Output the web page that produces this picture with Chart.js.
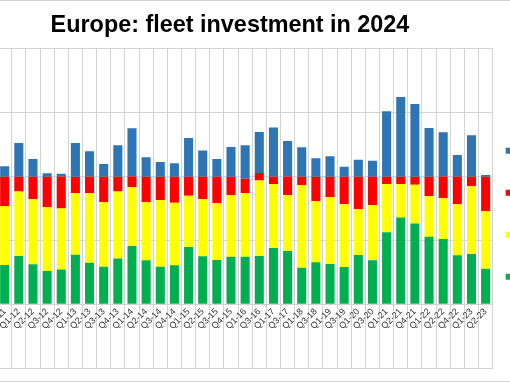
<!DOCTYPE html>
<html>
<head>
<meta charset="utf-8">
<script src="https://cdn.jsdelivr.net/npm/chart.js@4/dist/chart.umd.min.js"></script>
<style>
  html, body { margin: 0; padding: 0; background: #fff; overflow: hidden; width: 510px; height: 382px; }
  #frame { position: absolute; left: 0; top: 0; width: 510px; height: 380px; border-top: 1px solid #d4d4d4; border-bottom: 1px solid #d4d4d4; }
  #wrap { position: absolute; left: -72px; top: 0; width: 604px; height: 382px; }
</style>
</head>
<body>
<div id="frame"></div>
<div id="wrap"><canvas id="c"></canvas></div>
<script>
const TITLE = "Europe: fleet investment in 2024";
const categories = ["Q4-11","Q1-12","Q2-12","Q3-12","Q4-12","Q1-13","Q2-13","Q3-13","Q4-13","Q1-14","Q2-14","Q3-14","Q4-14","Q1-15","Q2-15","Q3-15","Q4-15","Q1-16","Q3-16","Q1-17","Q3-17","Q1-18","Q3-18","Q1-19","Q3-19","Q1-20","Q3-20","Q1-21","Q2-21","Q4-21","Q1-22","Q2-22","Q4-22","Q1-23","Q2-23"];
const seriesNames = ["Series 1","Series 2","Series 3","Series 4"];
const green  = [30.8,37.9,31.3,26.1,27.2,38.9,32.6,29.5,35.8,45.7,34.5,29.5,30.5,44.9,37.6,34.7,37.3,37.3,37.9,44.1,41.8,28.7,32.9,31.6,29.2,38.6,34.5,56.4,67.9,63.2,53.0,51.2,38.4,39.4,27.9];
const yellow = [46.2,50.4,50.9,50.1,47.8,48.0,54.3,50.7,52.5,46.0,45.7,52.2,49.1,40.2,44.9,44.4,48.3,49.6,59.0,50.1,43.9,64.8,47.8,52.2,49.1,35.8,43.3,37.9,26.4,30.5,31.9,31.9,39.9,53.0,44.9];
const red    = [23.0,11.7,17.8,23.8,25.1,13.1,13.1,19.8,11.7,8.4,19.8,18.3,20.4,14.9,17.5,20.9,14.4,11.5,6.0,5.7,14.4,6.5,19.3,16.2,21.7,25.6,22.2,5.7,5.7,6.3,15.1,17.0,21.7,7.6,27.2];
const blue   = [8.1,26.4,13.8,2.6,2.1,26.4,19.8,9.9,24.5,37.9,15.1,11.5,10.4,30.3,20.4,13.8,23.2,26.1,32.1,38.6,27.9,23.0,14.4,15.9,7.8,13.3,12.5,51.2,62.4,56.9,38.1,34.7,17.0,32.4,1.3];
const yTicks = [0, 50, 100, 150, 200];

const FONT = "'Liberation Sans', Arial, Helvetica, sans-serif";
const GRID = '#d3d3d3';

const boxLine = {
  id: 'boxLine',
  afterDraw(chart) {
    const {ctx, chartArea} = chart;
    const y = Math.round(chartArea.bottom + 64) + 0.5;
    ctx.save();
    ctx.strokeStyle = GRID;
    ctx.lineWidth = 1;
    ctx.beginPath();
    ctx.moveTo(chartArea.left, y);
    ctx.lineTo(chartArea.right + 0.5, y);
    ctx.stroke();
    ctx.restore();
  }
};

const ds = (label, data, color) => ({ label, data, backgroundColor: color, borderWidth: 0, barPercentage: 0.64, categoryPercentage: 1 });

new Chart(document.getElementById('c'), {
  type: 'bar',
  data: {
    labels: categories,
    datasets: [
      ds(seriesNames[0], green, '#00B050'),
      ds(seriesNames[1], yellow, '#FFFF00'),
      ds(seriesNames[2], red, '#FF0000'),
      ds(seriesNames[3], blue, '#2E75B6')
    ]
  },
  options: {
    responsive: true,
    maintainAspectRatio: false,
    animation: false,
    devicePixelRatio: 1,
    layout: { padding: { left: 0, right: 0, top: 0, bottom: 13.7 } },
    plugins: {
      title: {
        display: true, text: TITLE, color: '#000',
        font: { family: FONT, size: 23.4, weight: 'bold' },
        padding: { top: 11.5, bottom: 9.4 }
      },
      legend: {
        position: 'right', align: 'end', fullSize: false, reverse: true, maxWidth: 39.3,
        labels: { boxWidth: 6, boxHeight: 6, padding: 13, color: '#333', font: { family: FONT, size: 29 } }
      },
      tooltip: { enabled: false }
    },
    scales: {
      x: {
        stacked: true,
        grid: { color: GRID, tickLength: 64, offset: true, tickColor: GRID },
        border: { color: GRID },
        ticks: { autoSkip: false, maxRotation: 45, minRotation: 45, padding: -62, color: '#333', font: { family: FONT, size: 9 } },
        afterFit: s => { s.height = 64; }
      },
      y: {
        stacked: true, min: 0, max: 200,
        afterBuildTicks: s => { s.ticks = yTicks.map(v => ({ value: v })); },
        ticks: { color: '#333', font: { family: FONT, size: 10 }, callback: v => v + '%' },
        grid: { color: GRID, drawTicks: false },
        border: { display: false },
        afterFit: s => { s.width = 69.6; }
      }
    }
  },
  plugins: [boxLine]
});
</script>
</body>
</html>
